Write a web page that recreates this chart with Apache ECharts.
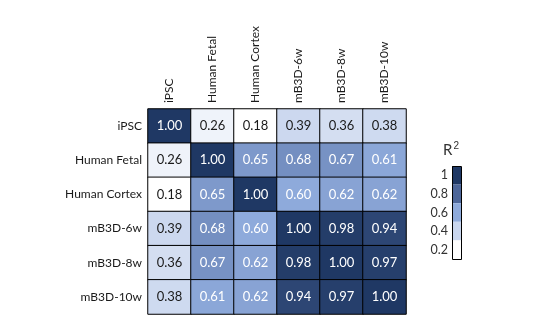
<!DOCTYPE html>
<html>
<head>
<meta charset="utf-8">
<script src="https://cdn.jsdelivr.net/npm/echarts@6/dist/echarts.min.js"></script>
<style>html,body{margin:0;padding:0;background:#fff}#c{width:538px;height:328px}</style>
</head>
<body>
<div id="c"></div>
<script>
var samples = ['iPSC', 'Human Fetal', 'Human Cortex', 'mB3D-6w', 'mB3D-8w', 'mB3D-10w'];
var rowIPSC   = [1.00, 0.26, 0.18, 0.39, 0.36, 0.38];
var rowFetal  = [0.26, 1.00, 0.65, 0.68, 0.67, 0.61];
var rowCortex = [0.18, 0.65, 1.00, 0.60, 0.62, 0.62];
var row6w     = [0.39, 0.68, 0.60, 1.00, 0.98, 0.94];
var row8w     = [0.36, 0.67, 0.62, 0.98, 1.00, 0.97];
var row10w    = [0.38, 0.61, 0.62, 0.94, 0.97, 1.00];
var legendLabels = ['0.2', '0.4', '0.6', '0.8', '1'];

var rows = [rowIPSC, rowFetal, rowCortex, row6w, row8w, row10w];
var data = [];
rows.forEach(function (r, i) {
  r.forEach(function (v, j) {
    data.push({
      value: [j, i, v],
      label: { color: v >= 0.5 ? '#ffffff' : '#1a1a1a' }
    });
  });
});

var palette = ['#ffffff', '#ffffff', '#c9d6ee', '#8eaadb', '#4d6699', '#1f3864'];
var font = 'Lato, "Open Sans", sans-serif';

var chart = echarts.init(document.getElementById('c'));
chart.setOption({
  animation: false,
  grid: { left: 148, top: 109, width: 258, height: 205 },
  xAxis: {
    type: 'category', data: samples, position: 'top',
    axisLine: { show: false }, axisTick: { show: false }, splitLine: { show: false },
    axisLabel: { rotate: -90, margin: 6, color: '#1a1a1a', fontSize: 12, fontFamily: font }
  },
  yAxis: {
    type: 'category', data: samples, inverse: true,
    axisLine: { show: false }, axisTick: { show: false }, splitLine: { show: false },
    axisLabel: { margin: 6, color: '#1a1a1a', fontSize: 12, fontFamily: font }
  },
  visualMap: [
    {
      type: 'continuous', show: false, seriesIndex: 0, dimension: 2,
      min: 0, max: 1, inRange: { color: palette }
    },
    {
      type: 'piecewise', seriesIndex: 1, orient: 'vertical', align: 'right',
      right: 77, top: 166, padding: 0, itemWidth: 9, itemHeight: 18.6, itemGap: 0, textGap: 4,
      itemSymbol: 'rect', selectedMode: false,
      textStyle: { color: '#333', fontSize: 12.5, fontFamily: font },
      pieces: [
        { min: 0.1, max: 0.3, label: legendLabels[0], color: '#ffffff' },
        { min: 0.3, max: 0.5, label: legendLabels[1], color: '#c9d6ee' },
        { min: 0.5, max: 0.7, label: legendLabels[2], color: '#8eaadb' },
        { min: 0.7, max: 0.9, label: legendLabels[3], color: '#4d6699' },
        { min: 0.9, max: 1.1, label: legendLabels[4], color: '#1f3864' }
      ]
    }
  ],
  graphic: [
    { type: 'rect', shape: { x: 452.5, y: 166.5, width: 9, height: 93 },
      style: { fill: null, stroke: '#000', lineWidth: 1 }, z: 100 },
    { type: 'text', left: 443, top: 141,
      style: { text: 'R{s|2}', fill: '#333', font: '15px ' + font,
        rich: { s: { fontSize: 10, verticalAlign: 'top', padding: [0, 0, 8, 1] } } } }
  ],
  series: [
    {
      type: 'heatmap', data: data,
      itemStyle: { borderColor: '#000', borderWidth: 1 },
      label: {
        show: true, fontSize: 13, fontFamily: font,
        formatter: function (p) { return p.value[2].toFixed(2); }
      },
      emphasis: { disabled: true }
    },
    { type: 'scatter', data: [], silent: true }
  ]
});
</script>
</body>
</html>
